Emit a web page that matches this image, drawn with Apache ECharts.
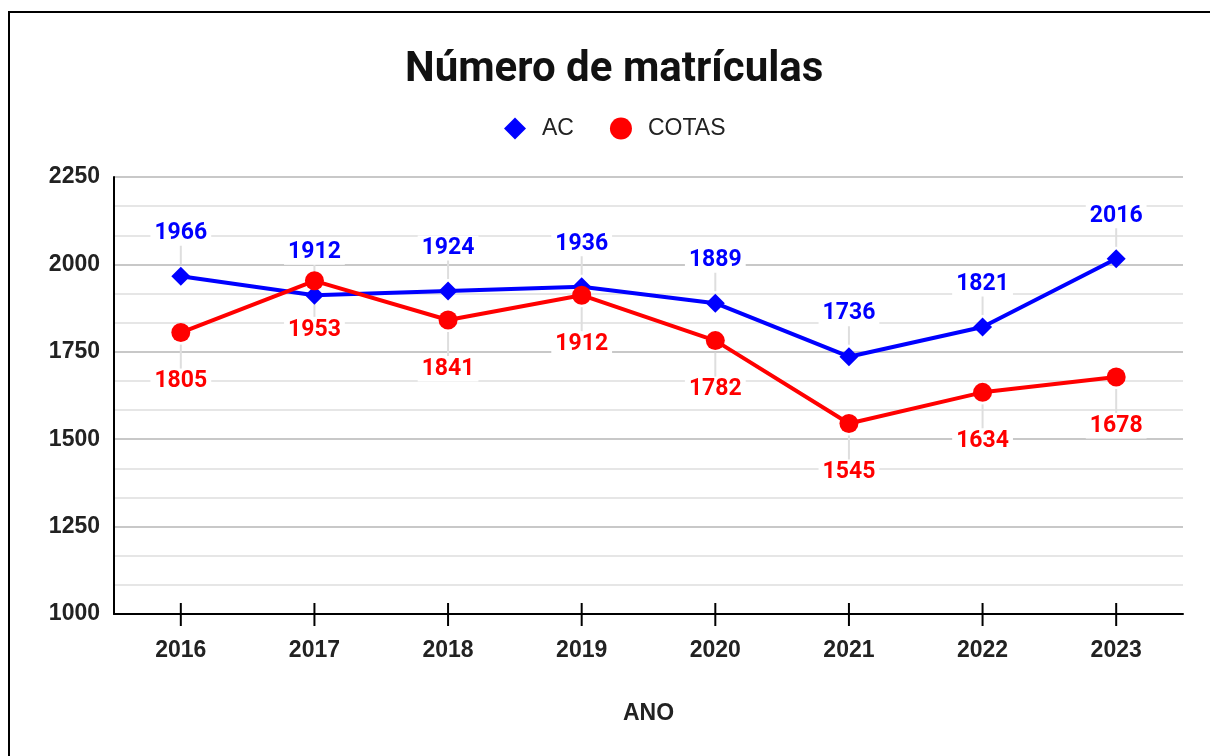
<!DOCTYPE html>
<html>
<head>
<meta charset="utf-8">
<script src="https://cdn.jsdelivr.net/npm/echarts@6/dist/echarts.min.js"></script>
<style>
    html, body { margin: 0; padding: 0; background: #fff; }
    #chart { width: 1210px; height: 756px; }
    #frame {
        position: absolute; left: 8px; top: 11px;
        width: 1400px; height: 900px;
        border: 2px solid #000; pointer-events: none;
    }
</style>
</head>
<body>
<div id="chart"></div>
<div id="frame"></div>
<script>
var anos = ['2016', '2017', '2018', '2019', '2020', '2021', '2022', '2023'];
var serieAC = [1966, 1912, 1924, 1936, 1889, 1736, 1821, 2016];
var serieCotas = [1805, 1953, 1841, 1912, 1782, 1545, 1634, 1678];
var yMin = 1000;
var yMax = 2250;

var myChart = echarts.init(document.getElementById('chart'));

var axisFont = {
    fontFamily: 'Liberation Sans',
    fontWeight: 'bold',
    fontSize: 23,
    color: '#222'
};

function rotulo(cor, posicao, distancia) {
    return {
        show: true,
        position: posicao,
        distance: distancia,
        fontFamily: 'Roboto',
        fontWeight: 'bold',
        fontSize: 23,
        color: cor,
        backgroundColor: '#fff',
        padding: [1, 4]
    };
}

// segmento vertical em cada ano, deslocado do ponto (linhas-guia e ticks)
function segmentos(nome, valores, inicio, fim, cor, z) {
    return {
        name: nome,
        type: 'custom',
        silent: true,
        z: z,
        data: valores.map(function(v, i) {
            return [i, v];
        }),
        renderItem: function(params, api) {
            var p = api.coord([api.value(0), api.value(1)]);
            return {
                type: 'line',
                shape: {x1: p[0], y1: p[1] + inicio, x2: p[0], y2: p[1] + fim},
                style: {stroke: cor, lineWidth: 2}
            };
        }
    };
}

var option = {
    animation: false,
    title: {
        text: 'Número de matrículas',
        left: 400,
        top: 44,
        textStyle: {
            fontFamily: 'Roboto',
            fontWeight: 'bold',
            fontSize: 42,
            color: '#111'
        }
    },
    legend: {
        left: 499,
        top: 112,
        itemWidth: 22,
        itemHeight: 22,
        itemGap: 36,
        textStyle: {
            fontFamily: 'Liberation Sans',
            fontSize: 23,
            color: '#222',
            padding: [0, 0, 0, 11]
        },
        data: [
            {name: 'AC', icon: 'diamond'},
            {name: 'COTAS', icon: 'circle'}
        ]
    },
    grid: {
        left: 114,
        right: 27,
        top: 177,
        bottom: 142
    },
    xAxis: {
        type: 'category',
        data: anos,
        name: 'ANO',
        nameLocation: 'middle',
        nameGap: 88,
        nameTextStyle: axisFont,
        axisLine: {lineStyle: {color: '#000', width: 2}},
        axisTick: {show: false},
        axisLabel: Object.assign({margin: 25}, axisFont)
    },
    yAxis: {
        type: 'value',
        min: yMin,
        max: yMax,
        interval: 250,
        axisLine: {show: true, lineStyle: {color: '#000', width: 2}},
        axisTick: {show: false},
        axisLabel: Object.assign({
            margin: 14,
            formatter: function(v) {
                return String(v);
            }
        }, axisFont),
        splitLine: {lineStyle: {color: '#c8c8c8', width: 2}},
        minorTick: {show: false, splitNumber: 3},
        minorSplitLine: {show: true, lineStyle: {color: '#e6e6e6', width: 2}}
    },
    series: [
        segmentos('guiaAC', serieAC, -12, -32, '#dedede', 1),
        segmentos('guiaCotas', serieCotas, 12, 36, '#dedede', 1),
        segmentos('ticks', anos.map(function() { return yMin; }), -11, 12, '#000', 5),
        {
            name: 'AC',
            type: 'line',
            data: serieAC,
            color: '#0000ff',
            symbol: 'diamond',
            symbolSize: 19,
            lineStyle: {width: 4},
            z: 3,
            label: rotulo('#0000ff', 'top', 21)
        },
        {
            name: 'COTAS',
            type: 'line',
            data: serieCotas,
            color: '#ff0000',
            symbol: 'circle',
            symbolSize: 19,
            lineStyle: {width: 4},
            z: 4,
            label: rotulo('#ff0000', 'bottom', 27)
        }
    ]
};

myChart.setOption(option);
</script>
</body>
</html>
